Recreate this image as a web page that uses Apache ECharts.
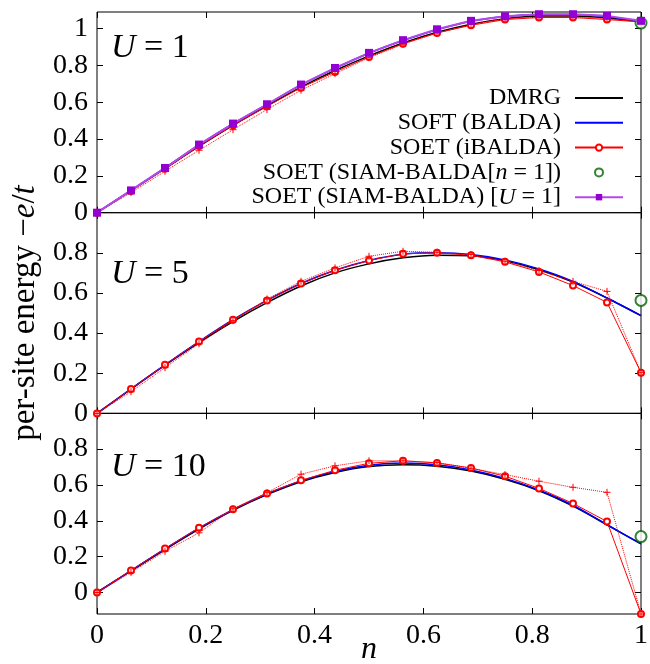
<!DOCTYPE html>
<html>
<head>
<meta charset="utf-8">
<script src="https://cdn.jsdelivr.net/npm/echarts@6/dist/echarts.min.js"></script>
<style>
html, body { margin: 0; padding: 0; background: #fff; }
#chart { width: 650px; height: 664px; }
</style>
</head>
<body>
<div id="chart"></div>
<script>
// band filling n on the 16-site grid
const nGrid = [0, 0.0625, 0.125, 0.1875, 0.25, 0.3125, 0.375, 0.4375, 0.5, 0.5625, 0.625, 0.6875, 0.75, 0.8125, 0.875, 0.9375, 1]

// U = 1
const dmrgU1 = [0, 0.120, 0.240, 0.360, 0.474, 0.580, 0.682, 0.772, 0.852, 0.922, 0.980, 1.024, 1.054, 1.068, 1.068, 1.058, 1.040]
const baldaU1 = [0, 0.121, 0.243, 0.368, 0.483, 0.588, 0.694, 0.784, 0.866, 0.935, 0.994, 1.040, 1.066, 1.077, 1.077, 1.066, 1.040]
const ibaldaU1 = [0, 0.118, 0.239, 0.362, 0.475, 0.578, 0.679, 0.764, 0.846, 0.918, 0.976, 1.018, 1.049, 1.060, 1.060, 1.049, 1.036]
const ibaldaDotU1 = [0, 0.109, 0.225, 0.339, 0.451, 0.560, 0.665, 0.755, 0.842, 0.915, 0.976, 1.022, 1.054, 1.063, 1.063, 1.054, 1.036]
const siamU1 = [0, 0.121, 0.243, 0.370, 0.484, 0.589, 0.696, 0.786, 0.868, 0.937, 0.996, 1.042, 1.067, 1.078, 1.078, 1.069, 1.042]

// U = 5
const dmrgU5 = [0, 0.121, 0.240, 0.353, 0.458, 0.552, 0.635, 0.700, 0.745, 0.775, 0.788, 0.785, 0.760, 0.716, 0.655, 0.575, 0.487]
const baldaU5 = [0, 0.122, 0.242, 0.358, 0.467, 0.563, 0.647, 0.713, 0.762, 0.793, 0.800, 0.792, 0.765, 0.720, 0.658, 0.575, 0.487]
const ibaldaU5 = [0, 0.122, 0.242, 0.358, 0.467, 0.563, 0.647, 0.713, 0.762, 0.795, 0.800, 0.788, 0.755, 0.705, 0.637, 0.553, 0.203]
const ibaldaDotU5 = [0, 0.108, 0.228, 0.347, 0.462, 0.570, 0.658, 0.725, 0.783, 0.808, 0.803, 0.792, 0.758, 0.712, 0.658, 0.608, 0.203]

// U = 10
const dmrgU10 = [0, 0.121, 0.240, 0.354, 0.458, 0.546, 0.618, 0.670, 0.703, 0.713, 0.705, 0.678, 0.632, 0.568, 0.482, 0.378, 0.271]
const baldaU10 = [0, 0.122, 0.243, 0.359, 0.462, 0.551, 0.623, 0.676, 0.710, 0.722, 0.713, 0.684, 0.637, 0.572, 0.487, 0.378, 0.271]
const ibaldaU10 = [0, 0.123, 0.245, 0.361, 0.464, 0.553, 0.626, 0.682, 0.721, 0.735, 0.723, 0.695, 0.649, 0.581, 0.497, 0.396, -0.12]
const ibaldaDotU10 = [0, 0.112, 0.230, 0.333, 0.467, 0.557, 0.660, 0.707, 0.735, 0.735, 0.725, 0.693, 0.658, 0.621, 0.587, 0.559, -0.12]

// SIAM-BALDA[n=1] single points at n = 1 for U = 1, 5, 10
const siamN1 = [1.03, 0.563, 0.312]

const panelLabels = ['1', '5', '10']
const xTicks = [0, 0.2, 0.4, 0.6, 0.8, 1]
const yLabelsTop = [0, 0.2, 0.4, 0.6, 0.8, 1]
const yLabelsRest = [0, 0.2, 0.4, 0.6, 0.8]

const FONT = 'Liberation Serif'

const panels = [
    { dmrg: dmrgU1, balda: baldaU1, ibalda: ibaldaU1, dot: ibaldaDotU1, siam: siamU1, min: 0, max: 1.09, labels: yLabelsTop },
    { dmrg: dmrgU5, balda: baldaU5, ibalda: ibaldaU5, dot: ibaldaDotU5, siam: null, min: 0, max: 1.0, labels: yLabelsRest },
    { dmrg: dmrgU10, balda: baldaU10, ibalda: ibaldaU10, dot: ibaldaDotU10, siam: null, min: -0.12, max: 1.0, labels: yLabelsRest }
]

const gridTops = [12, 212.7, 413.3]
const gridHeight = 200.7

function pairs(arr) {
    return nGrid.map((x, i) => [x, arr[i]])
}

const plusPath = 'path://M0,5 L10,5 M5,0 L5,10'

const grids = []
const xAxes = []
const yAxes = []
const series = []

panels.forEach((p, i) => {
    grids.push({
        left: 97, width: 544, top: gridTops[i], height: gridHeight,
        outerBoundsMode: 'none',
        show: true, borderColor: '#000', borderWidth: 1, backgroundColor: 'transparent'
    })
    const isBottom = i === panels.length - 1
    const tick = { show: true, inside: true, length: 6, lineStyle: { color: '#000', width: 1 }, customValues: xTicks }
    xAxes.push({
        type: 'value', gridIndex: i, position: 'bottom', min: 0, max: 1,
        axisLine: { show: false, onZero: false }, splitLine: { show: false }, axisTick: tick,
        axisLabel: {
            show: isBottom, customValues: xTicks, margin: 8,
            fontFamily: FONT, fontSize: 28, color: '#000',
            formatter: v => String(v)
        },
        name: isBottom ? 'n' : '', nameLocation: 'middle', nameGap: 20, nameMoveOverlap: false,
        nameTextStyle: { fontFamily: FONT, fontSize: 32, fontStyle: 'italic', color: '#000' }
    })
    xAxes.push({
        type: 'value', gridIndex: i, position: 'top', min: 0, max: 1,
        axisLine: { show: false, onZero: false }, splitLine: { show: false }, axisTick: tick,
        axisLabel: { show: false }
    })
    const yTick = { show: true, inside: true, length: 6, lineStyle: { color: '#000', width: 1 }, customValues: p.labels }
    yAxes.push({
        type: 'value', gridIndex: i, position: 'left', min: p.min, max: p.max,
        axisLine: { show: false, onZero: false }, splitLine: { show: false }, axisTick: yTick,
        axisLabel: {
            customValues: p.labels, margin: 9,
            fontFamily: FONT, fontSize: 28, color: '#000',
            formatter: v => String(v)
        },
        name: i === 1 ? '{r|per-site energy −}{i|e}{r|/}{i|t}' : '',
        nameLocation: 'middle', nameGap: 50, nameRotate: 90,
        nameTextStyle: {
            color: '#000',
            rich: {
                r: { fontFamily: FONT, fontSize: 33, color: '#000' },
                i: { fontFamily: FONT, fontSize: 33, fontStyle: 'italic', color: '#000' }
            }
        }
    })
    yAxes.push({
        type: 'value', gridIndex: i, position: 'right', min: p.min, max: p.max,
        axisLine: { show: false, onZero: false }, splitLine: { show: false }, axisTick: yTick,
        axisLabel: { show: false }
    })

    const xi = i * 2
    const yi = i * 2
    series.push({
        name: 'DMRG', type: 'line', xAxisIndex: xi, yAxisIndex: yi, data: pairs(p.dmrg),
        smooth: 0.3, symbol: 'none', lineStyle: { color: '#000', width: 1.5 }, itemStyle: { color: '#000' }, z: 2
    })
    series.push({
        name: 'SOFT (BALDA)', type: 'line', xAxisIndex: xi, yAxisIndex: yi, data: pairs(p.balda),
        smooth: 0.3, symbol: 'none', lineStyle: { color: '#0000ff', width: 1.5 }, itemStyle: { color: '#0000ff' }, z: 3
    })
    series.push({
        name: 'SOET (iBALDA)', type: 'line', xAxisIndex: xi, yAxisIndex: yi, data: pairs(p.ibalda),
        symbol: 'emptyCircle', symbolSize: 6,
        lineStyle: { color: '#ff0000', width: 1 },
        itemStyle: { color: '#ff0000', borderColor: '#ff0000', borderWidth: 1 }, z: 4
    })
    series.push({
        name: 'iBALDA dotted', type: 'line', xAxisIndex: xi, yAxisIndex: yi, data: pairs(p.dot),
        symbol: plusPath, symbolSize: 7,
        lineStyle: { color: '#ff0000', width: 1, type: 'dotted' },
        itemStyle: { color: '#ff0000', borderColor: '#ff0000', borderWidth: 1 }, z: 4
    })
    series.push({
        name: 'SOET (SIAM-BALDA[n = 1])', type: 'scatter', xAxisIndex: xi, yAxisIndex: yi,
        data: [[1, siamN1[i]]], symbol: 'emptyCircle', symbolSize: 11, clip: false,
        itemStyle: { color: '#006400', borderColor: '#006400', borderWidth: 1.5 }, z: 6
    })
    if (p.siam) {
        series.push({
            name: 'SOET (SIAM-BALDA) [U = 1]', type: 'line', xAxisIndex: xi, yAxisIndex: yi, data: pairs(p.siam),
            symbol: 'rect', symbolSize: 8,
            lineStyle: { color: '#b548e8', width: 2 },
            itemStyle: { color: '#9400d3' }, z: 7
        })
    }
})

const richLegend = {
    r: { fontFamily: FONT, fontSize: 24, lineHeight: 20, color: '#000' },
    i: { fontFamily: FONT, fontSize: 24, lineHeight: 20, fontStyle: 'italic', color: '#000' }
}

function legendText(name) {
    if (name === 'SOET (SIAM-BALDA[n = 1])') return '{r|SOET (SIAM-BALDA[}{i|n}{r| = 1])}'
    if (name === 'SOET (SIAM-BALDA) [U = 1]') return '{r|SOET (SIAM-BALDA) [}{i|U}{r| = 1]}'
    return '{r|' + name + '}'
}

const option = {
    animation: false,
    backgroundColor: '#fff',
    grid: grids,
    xAxis: xAxes,
    yAxis: yAxes,
    legend: {
        data: [
            { name: 'DMRG', itemStyle: { opacity: 0 } },
            { name: 'SOFT (BALDA)', itemStyle: { opacity: 0 } },
            'SOET (iBALDA)',
            'SOET (SIAM-BALDA[n = 1])',
            'SOET (SIAM-BALDA) [U = 1]'
        ],
        orient: 'vertical', align: 'right', right: 26, top: 86, padding: 0,
        itemWidth: 48, itemHeight: 8, itemGap: 0.8,
        selectedMode: false,
        formatter: legendText,
        textStyle: { lineHeight: 20, padding: [0, 9, 0, 0], rich: richLegend }
    },
    graphic: panelLabels.map((u, i) => ({
        type: 'text', left: 111, top: gridTops[i] + [19, 44, 37][i],
        style: {
            text: '{i|U}{r| = ' + u + '}',
            rich: {
                i: { fontFamily: FONT, fontSize: 34, fontStyle: 'italic', fill: '#000' },
                r: { fontFamily: FONT, fontSize: 34, fill: '#000' }
            }
        }
    })),
    series: series
}

const chart = echarts.init(document.getElementById('chart'), null, { renderer: 'canvas' })
chart.setOption(option)
</script>
</body>
</html>
